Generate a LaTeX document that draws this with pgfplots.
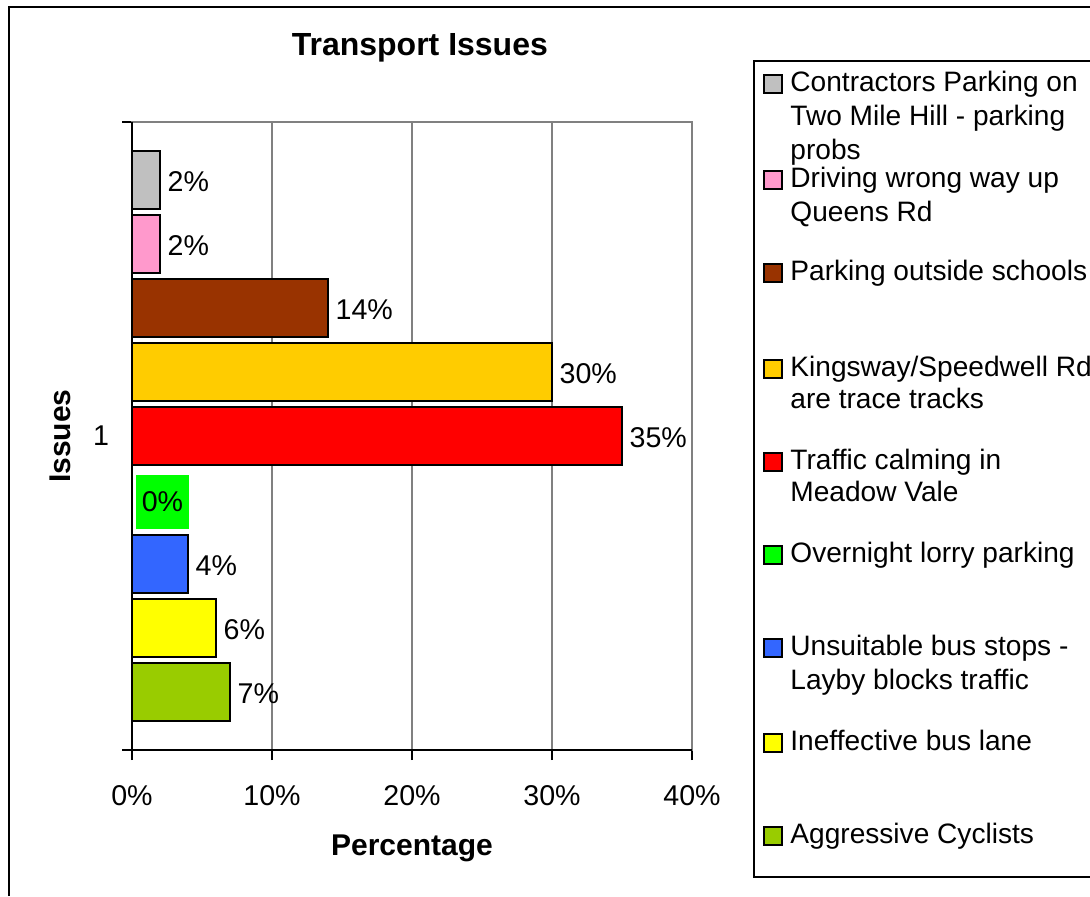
\documentclass[border=0pt]{standalone}
\usepackage{pgfplots}
\pgfplotsset{compat=1.18}
\usepackage{fontspec}
\setmainfont{Liberation Sans}
\definecolor{cgray}{HTML}{C0C0C0}
\definecolor{cpink}{HTML}{FF99CC}
\definecolor{cbrown}{HTML}{993300}
\definecolor{corange}{HTML}{FFCC00}
\definecolor{cred}{HTML}{FF0000}
\definecolor{cgreen}{HTML}{00FF00}
\definecolor{cblue}{HTML}{3366FF}
\definecolor{cyellow}{HTML}{FFFF00}
\definecolor{clime}{HTML}{99CC00}
\newcommand{\legsq}[2]{\draw[line width=1pt,fill=#1] (764,#2-16) rectangle (782,#2+2);}
\newcommand{\legtx}[2]{\node[anchor=base west,inner sep=0pt,font=\fontsize{14.05}{17}\selectfont] at (790,#1) {#2};}
\begin{document}
\begin{tikzpicture}[x=0.5pt,y=-0.5pt]
\useasboundingbox (0,0) rectangle (1090,896);
\draw[line width=1pt] (9,896) -- (9,7) -- (1090,7);
\coordinate (A) at (132,750);
\begin{axis}[
  at={(A)}, anchor=south west,
  scale only axis, width=280pt, height=314pt,
  xmin=0, xmax=40, ymin=-4.906, ymax=4.906,
  xbar, bar width=29pt, bar shift=0pt,
  axis line style={draw=gray, line width=1pt},
  xmajorgrids, grid style={gray, line width=0.6pt},
  xtick={0,10,20,30,40},
  xticklabels={0\%,10\%,20\%,30\%,40\%},
  xtick pos=bottom, ytick pos=left,
  tick align=outside, major tick length=5pt,
  tick style={black, line width=0.6pt},
  ytick={-4.906,4.906}, yticklabels={,},
  extra y ticks={0}, extra y tick labels={1},
  extra y tick style={major tick length=0pt, yticklabel style={xshift=-8pt}},
  ticklabel style={font=\fontsize{14.3}{17}\selectfont},
  xticklabel style={yshift=-9pt},
  /pgf/number format/assume math mode=true,
  title={Transport Issues},
  title style={font=\fontsize{16}{19}\selectfont\bfseries, at={(axis description cs:0.514,1.0985)}, anchor=center},
  xlabel={Percentage},
  xlabel style={font=\fontsize{15}{18}\selectfont\bfseries, at={(axis description cs:0.5,-0.156)}, anchor=center},
  ylabel={Issues},
  ylabel style={font=\fontsize{15}{18}\selectfont\bfseries, at={(axis description cs:-0.1286,0.5)}, anchor=center},
  nodes near coords={\pgfmathprintnumber{\pgfplotspointmeta}\%},
  every node near coord/.append style={font=\fontsize{14.3}{17}\selectfont, anchor=west, black, yshift=-1pt},
  point meta=explicit,
  clip=false,
]
\addplot[fill=cgray, draw=black, line width=1pt] coordinates {(2,4) [2]};
\addplot[fill=cpink, draw=black, line width=1pt] coordinates {(2,3) [2]};
\addplot[fill=cbrown, draw=black, line width=1pt] coordinates {(14,2) [14]};
\addplot[fill=corange, draw=black, line width=1pt] coordinates {(30,1) [30]};
\addplot[fill=cred, draw=black, line width=1pt] coordinates {(35,0) [35]};
\addplot[fill=cgreen, draw=none, every node near coord/.append style={fill=cgreen, xshift=2pt, inner xsep=2.7pt, minimum height=27pt}] coordinates {(0,-1) [0]};
\addplot[fill=cblue, draw=black, line width=1pt] coordinates {(4,-2) [4]};
\addplot[fill=cyellow, draw=black, line width=1pt] coordinates {(6,-3) [6]};
\addplot[fill=clime, draw=black, line width=1pt] coordinates {(7,-4) [7]};
\draw[black, line width=1pt] (rel axis cs:0,1) -- (rel axis cs:0,0) -- (rel axis cs:1,0);
\end{axis}
\draw[line width=1pt] (1100,61) -- (754,61) -- (754,877) -- (1100,877);
\legsq{cgray}{91}
\legtx{91}{Contractors Parking on}
\legtx{125}{Two Mile Hill - parking}
\legtx{159}{probs}
\legsq{cpink}{187}
\legtx{187}{Driving wrong way up}
\legtx{221}{Queens Rd}
\legsq{cbrown}{280}
\legtx{280}{Parking outside schools}
\legsq{corange}{376}
\legtx{376}{Kingsway/Speedwell Rd}
\legtx{408}{are trace tracks}
\legsq{cred}{469}
\legtx{469}{Traffic calming in}
\legtx{501}{Meadow Vale}
\legsq{cgreen}{562}
\legtx{562}{Overnight lorry parking}
\legsq{cblue}{655}
\legtx{655}{Unsuitable bus stops -}
\legtx{689}{Layby blocks traffic}
\legsq{cyellow}{750}
\legtx{750}{Ineffective bus lane}
\legsq{clime}{843}
\legtx{843}{Aggressive Cyclists}
\end{tikzpicture}
\end{document}
